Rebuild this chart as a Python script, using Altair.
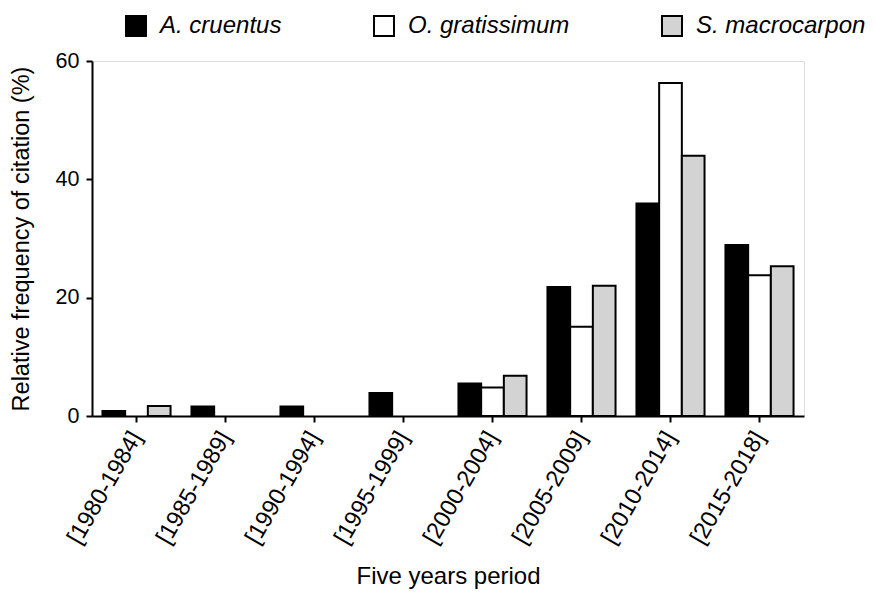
import altair as alt
import pandas as pd

periods = ["[1980-1984]", "[1985-1989]", "[1990-1994]", "[1995-1999]",
           "[2000-2004]", "[2005-2009]", "[2010-2014]", "[2015-2018]"]
species = ["A. cruentus", "O. gratissimum", "S. macrocarpon"]
a_cruentus = [0.85, 1.6, 1.6, 3.9, 5.5, 21.8, 35.9, 28.9]
o_gratissimum = [0, 0, 0, 0, 4.8, 15.1, 56.3, 23.8]
s_macrocarpon = [1.7, 0, 0, 0, 6.8, 22.0, 44.0, 25.3]
colors = ["#000000", "#ffffff", "#d3d3d3"]

rows = []
for sp, vals in zip(species, [a_cruentus, o_gratissimum, s_macrocarpon]):
    for p, v in zip(periods, vals):
        rows.append({"period": p, "species": sp, "value": v})
df = pd.DataFrame(rows)

FONT = "Liberation Sans"

chart = alt.Chart(df).transform_filter("datum.value > 0").mark_bar(
    stroke="black", strokeWidth=2
).encode(
    x=alt.X("period:N", sort=periods,
            scale=alt.Scale(paddingInner=0.235, paddingOuter=0.1175),
            axis=alt.Axis(title="Five years period", labelAngle=300,
                          labelFontSize=23.5, labelPadding=11, labelColor="black",
                          labelFont=FONT, tickSize=6, tickWidth=2, tickColor="black",
                          domainWidth=2, domainColor="black",
                          titleFontSize=24, titleFont=FONT, titleFontWeight="normal",
                          titleColor="black", titleX=356, titleY=167,
                          titleAlign="center", titleBaseline="alphabetic")),
    xOffset=alt.XOffset("species:N", sort=species,
                        scale=alt.Scale(paddingInner=0, paddingOuter=0)),
    y=alt.Y("value:Q", scale=alt.Scale(domain=[0, 60], nice=False),
            axis=alt.Axis(title="Relative frequency of citation (%)", values=[0, 20, 40, 60],
                          grid=False, labelFontSize=21.5, labelPadding=7, labelColor="black",
                          labelFont=FONT, tickSize=6, tickWidth=2, tickColor="black",
                          domainWidth=2, domainColor="black",
                          titleFontSize=23.5, titleFont=FONT, titleFontWeight="normal",
                          titleColor="black", titleX=-64, titleY=177.5, titleAngle=270,
                          titleAlign="center", titleBaseline="alphabetic")),
    color=alt.Color("species:N", sort=species,
                    scale=alt.Scale(domain=species, range=colors),
                    legend=alt.Legend(title=None, orient="none", legendX=32, legendY=-47,
                                      direction="horizontal", symbolType="square",
                                      symbolSize=400, symbolStrokeColor="black",
                                      symbolStrokeWidth=2, symbolOpacity=1,
                                      labelFontSize=24, labelFontStyle="italic",
                                      labelFont=FONT, labelColor="black", labelOffset=12,
                                      columnPadding=88, labelLimit=400, padding=0)),
).properties(
    width=712, height=355,
    autosize=alt.AutoSizeParams(type="none"),
    padding={"left": 84, "top": 53, "right": 63, "bottom": 174},
).configure_view(stroke=None).configure(font=FONT)

chart.save("out.html", embed_options={"renderer": "svg", "actions": False})
